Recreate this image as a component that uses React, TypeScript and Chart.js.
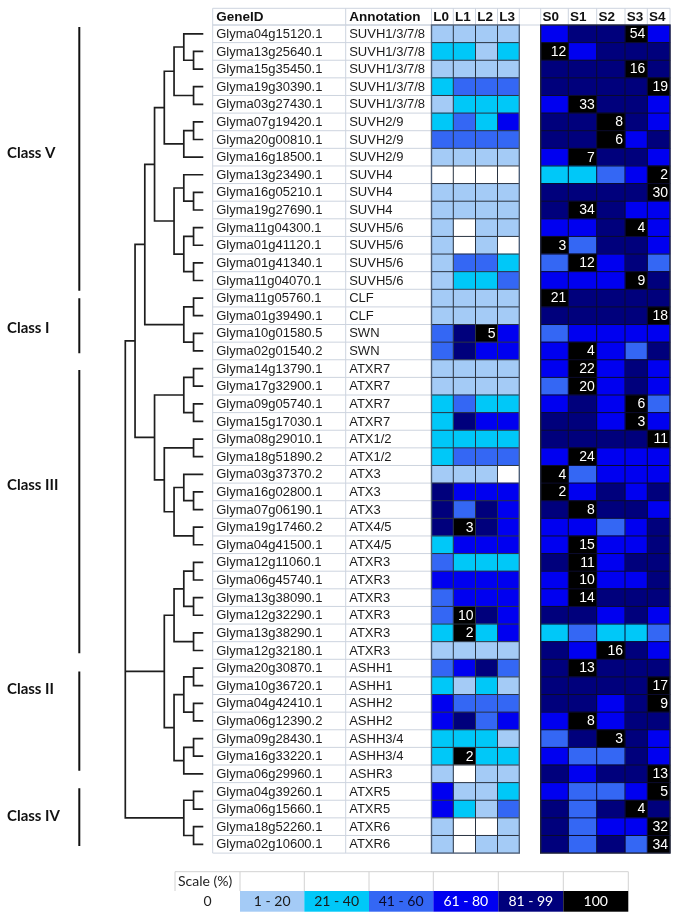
import React, { useEffect, useRef } from 'react';
import { Chart, registerables } from 'chart.js';

Chart.register(...registerables);

// ---------------- data ----------------
const geneIds = [
  'Glyma04g15120.1', 'Glyma13g25640.1', 'Glyma15g35450.1', 'Glyma19g30390.1', 'Glyma03g27430.1',
  'Glyma07g19420.1', 'Glyma20g00810.1', 'Glyma16g18500.1', 'Glyma13g23490.1', 'Glyma16g05210.1',
  'Glyma19g27690.1', 'Glyma11g04300.1', 'Glyma01g41120.1', 'Glyma01g41340.1', 'Glyma11g04070.1',
  'Glyma11g05760.1', 'Glyma01g39490.1', 'Glyma10g01580.5', 'Glyma02g01540.2', 'Glyma14g13790.1',
  'Glyma17g32900.1', 'Glyma09g05740.1', 'Glyma15g17030.1', 'Glyma08g29010.1', 'Glyma18g51890.2',
  'Glyma03g37370.2', 'Glyma16g02800.1', 'Glyma07g06190.1', 'Glyma19g17460.2', 'Glyma04g41500.1',
  'Glyma12g11060.1', 'Glyma06g45740.1', 'Glyma13g38090.1', 'Glyma12g32290.1', 'Glyma13g38290.1',
  'Glyma12g32180.1', 'Glyma20g30870.1', 'Glyma10g36720.1', 'Glyma04g42410.1', 'Glyma06g12390.2',
  'Glyma09g28430.1', 'Glyma16g33220.1', 'Glyma06g29960.1', 'Glyma04g39260.1', 'Glyma06g15660.1',
  'Glyma18g52260.1', 'Glyma02g10600.1',
];

const annotations = [
  'SUVH1/3/7/8', 'SUVH1/3/7/8', 'SUVH1/3/7/8', 'SUVH1/3/7/8', 'SUVH1/3/7/8',
  'SUVH2/9', 'SUVH2/9', 'SUVH2/9', 'SUVH4', 'SUVH4',
  'SUVH4', 'SUVH5/6', 'SUVH5/6', 'SUVH5/6', 'SUVH5/6',
  'CLF', 'CLF', 'SWN', 'SWN', 'ATXR7',
  'ATXR7', 'ATXR7', 'ATXR7', 'ATX1/2', 'ATX1/2',
  'ATX3', 'ATX3', 'ATX3', 'ATX4/5', 'ATX4/5',
  'ATXR3', 'ATXR3', 'ATXR3', 'ATXR3', 'ATXR3',
  'ATXR3', 'ASHH1', 'ASHH1', 'ASHH2', 'ASHH2',
  'ASHH3/4', 'ASHH3/4', 'ASHR3', 'ATXR5', 'ATXR5',
  'ATXR6', 'ATXR6',
];

// scale class per cell: 0 = 0, 1 = 1-20, 2 = 21-40, 3 = 41-60, 4 = 61-80, 5 = 81-99, 6 = 100
const L0 = [1,2,1,2,1,2,3,1,0,1, 1,1,1,1,1,1,1,3,3,1, 1,2,2,2,2,1,5,5,5,2, 3,4,3,3,2,1,3,2,4,4, 2,2,1,4,4,1,1];
const L1 = [1,2,1,3,2,3,3,1,0,1, 1,0,0,3,2,1,1,5,5,1, 1,3,5,2,3,1,4,3,6,4, 2,4,4,6,6,1,4,1,3,5, 2,6,0,1,2,0,0];
const L2 = [1,1,1,3,2,2,3,1,0,1, 1,1,1,3,2,1,1,6,4,1, 1,2,4,2,3,1,4,5,5,4, 2,4,4,5,2,1,5,2,3,3, 2,2,1,1,1,0,1];
const L3 = [1,2,1,3,2,4,3,1,0,1, 1,1,0,2,3,1,1,4,4,1, 1,2,4,2,3,0,4,4,4,4, 2,4,4,4,4,1,3,1,3,4, 1,2,1,2,3,1,1];
const S0 = [4,6,5,5,4,5,5,4,2,5, 5,4,6,3,4,6,5,3,4,4, 3,4,5,5,4,6,6,5,4,4, 5,4,4,5,2,5,5,5,5,4, 3,4,5,4,5,5,5];
const S1 = [5,4,5,5,6,5,5,6,2,5, 6,4,3,6,4,5,5,4,6,6, 6,5,5,5,6,3,4,6,4,6, 6,6,6,5,3,4,6,5,5,6, 5,3,4,3,3,3,3];
const S2 = [5,5,5,5,5,6,6,5,3,5, 5,5,5,4,4,5,5,4,4,4, 4,4,4,5,4,4,5,5,3,4, 4,4,5,4,2,6,5,5,4,4, 6,3,5,3,5,4,5];
const S3 = [6,5,6,5,5,5,4,5,4,5, 4,6,5,5,6,5,5,4,3,5, 5,6,6,5,4,4,4,5,4,4, 5,4,5,5,2,5,5,5,5,5, 5,5,5,4,6,4,3];
const S4 = [4,5,5,6,4,4,5,4,6,6, 4,4,4,3,5,5,6,4,5,4, 4,3,4,6,4,4,5,4,5,5, 5,5,5,4,3,4,5,6,6,5, 4,4,6,6,5,6,6];

// number shown in each row's 100% cell
const peakCounts = [54,12,16,19,33,8,6,7,2,30, 34,4,3,12,9,21,18,5,4,22, 20,6,3,11,24,4,2,8,3,15, 11,10,14,10,2,16,13,17,9,8, 3,2,13,5,4,32,34];

const columnNames = ['L0', 'L1', 'L2', 'L3', 'S0', 'S1', 'S2', 'S3', 'S4'];
const levelLabels = ['0', '1 - 20', '21 - 40', '41 - 60', '61 - 80', '81 - 99', '100'];

const classNames = ['Class V', 'Class I', 'Class III', 'Class II', 'Class IV'];
const classStart = [-0.39, 15.01, 19.08, 36.2, 42.82];
const classEnd = [14.58, 18.13, 35.16, 41.82, 46.1];
const classLabelAt = [6.8, 16.7, 25.6, 37.2, 44.4];

// dendrogram: leaves are rows 0..46; merge k creates node 47 + k
const mergeChildren: number[][] = [
  [1, 2], [0, 47], [3, 4], [48, 49], [5, 6], [51, 7], [50, 52],
  [9, 10], [8, 54], [11, 12], [13, 14], [56, 57], [55, 58], [53, 59],
  [15, 16], [17, 18], [61, 62], [60, 63],
  [19, 20], [21, 22], [65, 66], [23, 24], [26, 27], [25, 69], [28, 29], [70, 71], [68, 72], [67, 73], [64, 74],
  [30, 31], [32, 33], [76, 77], [34, 35], [78, 79], [36, 37], [38, 39], [81, 82], [40, 41], [84, 42], [83, 85], [80, 86],
  [43, 44], [45, 46], [88, 89],
  [75, 87, 90],
];
const mergeLevels = [
  1, 2, 1, 3, 1, 2, 4,
  1, 2, 1, 1, 2, 3, 5,
  1, 1, 2, 6,
  1, 1, 2, 1, 1, 2, 1, 3, 4, 5, 7,
  1, 1, 2, 1, 3, 1, 1, 2, 1, 2, 3, 4,
  1, 1, 2,
  8,
];

// ---------------- style / layout ----------------
const levelColors = ['#ffffff', '#a4cbf6', '#00c8f8', '#3467f4', '#0000f0', '#00007c', '#000000'];
const legendTextColors = ['#222222', '#1a1a1a', '#1a1a1a', '#0a0a2a', '#ffffff', '#ffffff', '#ffffff'];
const W = 676;
const H = 919;
const ROW_TOP = 25;
const ROW_BOTTOM = 853.1;
const HEADER_TOP = 8.3;
const TABLE_LEFT = 212.7;
const ANNOT_LEFT = 345.7;
const COL_EDGES = [431.5, 453.3, 475.5, 497.5, 519.3, 540.7, 568.3, 596.7, 625, 647.3, 670];
const LEAF_X = 203.3;
const LEVEL_STEP = 9.75;
const CLASS_BAR_X = 79.3;
const LEG_TOP = 871.7;
const LEG_MID = 891;
const LEG_BOTTOM = 911.7;
const LEG_X = [175, 240, 304.3, 369, 433.3, 498.3, 563.3, 628.3];
const SANS = '"Liberation Sans", Arial, Helvetica, sans-serif';
const CAL = 'Lato, "Open Sans", sans-serif';
const GRID = '#cdd4df';

const columns = [L0, L1, L2, L3, S0, S1, S2, S3, S4];
const N = geneIds.length;
const colLeft = (j: number) => (j < 4 ? COL_EDGES[j] : COL_EDGES[j + 1]);
const colRight = (j: number) => (j < 4 ? COL_EDGES[j + 1] : COL_EDGES[j + 2]);

function buildDendrogram() {
  const nodeLevel: number[] = geneIds.map(() => 0);
  const nodeY: number[] = geneIds.map((_, i) => i);
  const sets: { x: number; y: number }[][] = [];
  mergeChildren.forEach((kids, k) => {
    const lv = mergeLevels[k];
    const sorted = [...kids].sort((a, b) => nodeY[a] - nodeY[b]);
    const first = sorted[0];
    const last = sorted[sorted.length - 1];
    sets.push([
      { x: nodeLevel[first], y: nodeY[first] },
      { x: lv, y: nodeY[first] },
      { x: lv, y: nodeY[last] },
      { x: nodeLevel[last], y: nodeY[last] },
    ]);
    sorted.slice(1, -1).forEach((c) => {
      sets.push([{ x: lv, y: nodeY[c] }, { x: nodeLevel[c], y: nodeY[c] }]);
    });
    nodeLevel.push(lv);
    nodeY.push((nodeY[first] + nodeY[last]) / 2);
  });
  return sets;
}

const overlayPlugin = {
  id: 'heatmapOverlay',
  beforeDatasetsDraw(chart: any) {
    const ctx = chart.ctx as CanvasRenderingContext2D;
    const yd = chart.scales.yd;
    const edge = (i: number) => yd.getPixelForValue(i - 0.5);
    ctx.save();
    ctx.strokeStyle = GRID;
    ctx.lineWidth = 1;
    ctx.beginPath();
    for (let i = 0; i <= N; i++) {
      const y = edge(i);
      ctx.moveTo(TABLE_LEFT, y);
      ctx.lineTo(COL_EDGES[0], y);
    }
    [TABLE_LEFT, ANNOT_LEFT].forEach((x) => {
      ctx.moveTo(x, HEADER_TOP);
      ctx.lineTo(x, edge(N));
    });
    ctx.moveTo(TABLE_LEFT, HEADER_TOP);
    ctx.lineTo(COL_EDGES[COL_EDGES.length - 1], HEADER_TOP);
    ctx.moveTo(TABLE_LEFT, edge(0));
    ctx.lineTo(COL_EDGES[COL_EDGES.length - 1], edge(0));
    COL_EDGES.forEach((x) => {
      ctx.moveTo(x, HEADER_TOP);
      ctx.lineTo(x, edge(0));
    });
    ctx.stroke();
    ctx.restore();
  },
  afterDatasetsDraw(chart: any) {
    const ctx = chart.ctx as CanvasRenderingContext2D;
    const yd = chart.scales.yd;
    const edge = (i: number) => yd.getPixelForValue(i - 0.5);
    const mid = (i: number) => yd.getPixelForValue(i);
    const top = edge(0);
    const bottom = edge(N);
    ctx.save();

    // heatmap cell grid
    const drawBlock = (cols: number[], inner: string, outer: string) => {
      const x0 = colLeft(cols[0]);
      const x1 = colRight(cols[cols.length - 1]);
      ctx.strokeStyle = inner;
      ctx.lineWidth = 1;
      ctx.beginPath();
      for (let i = 1; i < N; i++) {
        const y = edge(i);
        ctx.moveTo(x0, y);
        ctx.lineTo(x1, y);
      }
      cols.slice(1).forEach((j) => {
        const x = colLeft(j);
        ctx.moveTo(x, top);
        ctx.lineTo(x, bottom);
      });
      ctx.stroke();
      ctx.strokeStyle = outer;
      ctx.lineWidth = 1.4;
      ctx.strokeRect(x0, top, x1 - x0, bottom - top);
    };
    drawBlock([0, 1, 2, 3], '#2a3340', '#4f6078');
    drawBlock([4, 5, 6, 7, 8], '#0b0b2e', '#20243a');

    // numbers in the 100% cells
    ctx.font = `14px ${SANS}`;
    ctx.fillStyle = '#ffffff';
    ctx.textAlign = 'right';
    ctx.textBaseline = 'middle';
    for (let i = 0; i < N; i++) {
      const j = columns.findIndex((col) => col[i] === 6);
      if (j >= 0) ctx.fillText(String(peakCounts[i]), colRight(j) - 2, mid(i) + 0.5);
    }

    // headers
    const headY = (HEADER_TOP + top) / 2 + 0.5;
    ctx.textAlign = 'left';
    ctx.fillStyle = '#111111';
    ctx.font = `bold 13.5px ${SANS}`;
    ctx.fillText('GeneID', TABLE_LEFT + 3.5, headY);
    ctx.fillText('Annotation', ANNOT_LEFT + 3.5, headY);
    columnNames.forEach((name, j) => ctx.fillText(name, colLeft(j) + 1.8, headY));

    // table text
    ctx.font = `13px ${SANS}`;
    ctx.fillStyle = '#1c1c1c';
    for (let i = 0; i < N; i++) {
      ctx.fillText(geneIds[i], TABLE_LEFT + 3.5, mid(i) + 0.5);
      ctx.fillText(annotations[i], ANNOT_LEFT + 3.5, mid(i) + 0.5);
    }

    // class labels
    ctx.font = `bold 15px ${CAL}`;
    ctx.fillStyle = '#111111';
    classNames.forEach((name, c) => ctx.fillText(name, 7, yd.getPixelForValue(classLabelAt[c])));

    // legend
    ctx.strokeStyle = '#d2d2d2';
    ctx.lineWidth = 1;
    ctx.beginPath();
    ctx.moveTo(LEG_X[0], LEG_TOP);
    ctx.lineTo(LEG_X[LEG_X.length - 1], LEG_TOP);
    LEG_X.forEach((x) => {
      ctx.moveTo(x, LEG_TOP);
      ctx.lineTo(x, LEG_MID);
    });
    ctx.stroke();
    ctx.font = `14px ${CAL}`;
    ctx.fillStyle = '#222222';
    ctx.textAlign = 'left';
    ctx.fillText('Scale (%)', LEG_X[0] + 3, (LEG_TOP + LEG_MID) / 2 + 0.5);
    ctx.textAlign = 'center';
    const legY = (LEG_MID + LEG_BOTTOM) / 2 + 0.5;
    levelLabels.forEach((lab, v) => {
      const x0 = LEG_X[v];
      const x1 = LEG_X[v + 1];
      if (v > 0) {
        ctx.fillStyle = levelColors[v];
        ctx.fillRect(x0, LEG_MID, x1 - x0, LEG_BOTTOM - LEG_MID);
      }
      ctx.fillStyle = legendTextColors[v];
      ctx.fillText(lab, (x0 + x1) / 2, legY);
    });
    ctx.restore();
  },
};

export default function App() {
  const ref = useRef<HTMLCanvasElement>(null);
  useEffect(() => {
    document.body.style.margin = '0';
    const canvas = ref.current;
    if (!canvas) return;

    const barSets = columns.map((vals, j) => ({
      type: 'bar' as const,
      xAxisID: 'x',
      yAxisID: 'y',
      data: vals.map(() => [colLeft(j), colRight(j)]),
      backgroundColor: vals.map((v) => levelColors[v]),
      borderWidth: 0,
      barPercentage: 1,
      categoryPercentage: 1,
      grouped: false,
      label: columnNames[j],
    }));

    const treeSets = buildDendrogram().map((pts) => ({
      type: 'line' as const,
      xAxisID: 'xd',
      yAxisID: 'yd',
      data: pts,
      borderColor: '#1e1e1e',
      borderWidth: 1.7,
      pointRadius: 0,
      pointHoverRadius: 0,
      fill: false,
      tension: 0,
      borderJoinStyle: 'miter' as const,
      clip: false as const,
    }));

    const classSets = classNames.map((_, c) => ({
      type: 'line' as const,
      xAxisID: 'x',
      yAxisID: 'yd',
      data: [
        { x: CLASS_BAR_X, y: classStart[c] },
        { x: CLASS_BAR_X, y: classEnd[c] },
      ],
      borderColor: '#111111',
      borderWidth: 2,
      pointRadius: 0,
      pointHoverRadius: 0,
      fill: false,
      clip: false as const,
    }));

    const chart = new Chart(canvas, {
      type: 'bar',
      data: {
        labels: geneIds,
        datasets: [...barSets, ...treeSets, ...classSets] as any,
      },
      options: {
        indexAxis: 'y',
        responsive: false,
        animation: false,
        events: [],
        layout: { padding: { left: 0, right: 0, top: ROW_TOP, bottom: H - ROW_BOTTOM } },
        plugins: { legend: { display: false }, tooltip: { enabled: false }, title: { display: false } },
        scales: {
          x: { type: 'linear', axis: 'x', position: 'bottom', min: 0, max: W, offset: false, grace: 0, display: false },
          y: { type: 'category', axis: 'y', position: 'left', offset: true, display: false },
          xd: {
            type: 'linear', axis: 'x', position: 'top', reverse: true, offset: false, grace: 0,
            min: (LEAF_X - W) / LEVEL_STEP, max: LEAF_X / LEVEL_STEP, display: false,
          },
          yd: {
            type: 'linear', axis: 'y', position: 'right', reverse: true, offset: false, grace: 0,
            min: -0.5, max: N - 0.5, display: false,
          },
        } as any,
      },
      plugins: [overlayPlugin],
    });
    return () => chart.destroy();
  }, []);

  return (
    <div style={{ width: W, height: H, background: '#ffffff' }}>
      <canvas ref={ref} width={W} height={H} style={{ display: 'block', width: W, height: H }} />
    </div>
  );
}
